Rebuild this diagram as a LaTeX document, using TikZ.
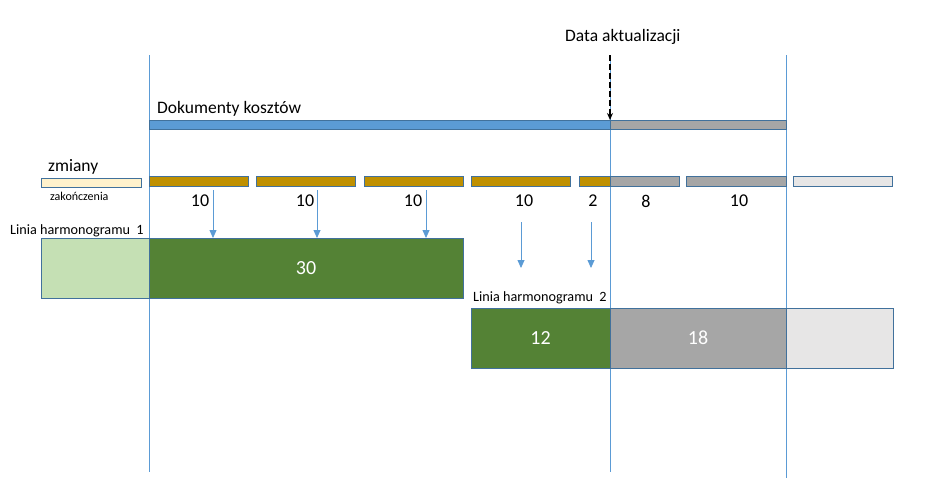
\documentclass[tikz,border=0pt]{standalone}
\usepackage{fontspec}
\setmainfont{Carlito}
\usetikzlibrary{arrows.meta}
\definecolor{edgeblue}{RGB}{65,113,156}
\definecolor{lineblue}{RGB}{91,155,213}
\definecolor{costblue}{RGB}{91,155,213}
\definecolor{gold}{RGB}{191,144,0}
\definecolor{cream}{RGB}{255,242,204}
\definecolor{palegreen}{RGB}{197,224,180}
\definecolor{deepgreen}{RGB}{84,130,53}
\definecolor{midgrey}{RGB}{166,166,166}
\definecolor{palegrey}{RGB}{231,230,230}
\begin{document}
\begin{tikzpicture}[x=1pt,y=1pt,yscale=-1,
    box/.style={draw=edgeblue,line width=0.8pt,inner sep=0pt,outer sep=0pt,anchor=north west},
    guide/.style={lineblue,line width=0.8pt},
    flow/.style={lineblue,line width=0.8pt,-{Triangle[width=7pt,length=8pt]}},
    lab/.style={anchor=base west,inner sep=0pt,font=\fontsize{17.5}{20}\selectfont},
    sched/.style={anchor=base west,inner sep=0pt,font=\fontsize{14.2}{17}\selectfont},
    num/.style={font=\fontsize{18}{21}\selectfont},
    big/.style={font=\fontsize{20}{23}\selectfont,text=white}]
    \useasboundingbox (0,0) rectangle (943,491);

    % guide lines
    \draw[guide] (149,55) -- (149,472);
    \draw[guide] (610,55) -- (610,472);
    \draw[guide] (786,55) -- (786,478);

    % cost documents bar
    \node[box,fill=costblue,minimum width=461pt,minimum height=9pt] (doc) at (149,120) {};
    \node[box,fill=midgrey,minimum width=176pt,minimum height=9pt] (docrest) at (610,120) {};
    \node[lab] (doclab) at (157,113) {Dokumenty kosztów};

    % update date
    \node[lab] (updlab) at (565,41) {Data aktualizacji};
    \coordinate (upd) at (610,55);
    \draw[black,line width=1.6pt,dash pattern=on 6pt off 3pt,-{Stealth[length=7pt,width=6pt]}] (upd) -- (doc.north east);

    % changes
    \node[lab] (chglab) at (48,171) {zmiany};
    \node[box,fill=cream,minimum width=100pt,minimum height=9pt] (endbar) at (41,178) {};
    \node[anchor=base west,inner sep=0pt,font=\fontsize{12}{14}\selectfont] (endlab) at (50,200) {zakończenia};

    \node[box,fill=gold,minimum width=99pt,minimum height=10pt] (c1) at (149,176) {};
    \node[box,fill=gold,minimum width=99pt,minimum height=10pt] (c2) at (256,176) {};
    \node[box,fill=gold,minimum width=99pt,minimum height=10pt] (c3) at (364,176) {};
    \node[box,fill=gold,minimum width=99pt,minimum height=10pt] (c4) at (471,176) {};
    \node[box,fill=gold,minimum width=31pt,minimum height=10pt] (c5) at (579,176) {};
    \node[box,fill=midgrey,minimum width=69pt,minimum height=10pt] (c6) at (610,176) {};
    \node[box,fill=midgrey,minimum width=100pt,minimum height=10pt] (c7) at (686,176) {};
    \node[box,fill=palegrey,minimum width=99pt,minimum height=10pt] (c8) at (793,176) {};

    \node[num] (n1) at (200,201) {10};
    \node[num] (n2) at (305,201) {10};
    \node[num] (n3) at (413,201) {10};
    \node[num] (n4) at (524,201) {10};
    \node[num] (n5) at (593,201) {2};
    \node[num] (n6) at (646,201) {8};
    \node[num] (n7) at (739,201) {10};

    % schedule line 1
    \node[sched] (l1lab) at (10,234) {Linia harmonogramu\ \ 1};
    \node[box,fill=palegreen,minimum width=108pt,minimum height=60pt] (s1a) at (41,238) {};
    \node[box,fill=deepgreen,minimum width=314pt,minimum height=60pt] (s1b) at (149,238) {};
    \node[big] (v30) at (s1b.center) {30};

    % schedule line 2
    \node[sched] (l2lab) at (473,301) {Linia harmonogramu\ \ 2};
    \node[box,fill=deepgreen,minimum width=139pt,minimum height=60pt] (s2a) at (471,308) {};
    \node[box,fill=midgrey,minimum width=176pt,minimum height=60pt] (s2b) at (610,308) {};
    \node[box,fill=palegrey,minimum width=107pt,minimum height=60pt] (s2c) at (786,308) {};
    \node[big] (v12) at (s2a.center) {12};
    \node[big] (v18) at (s2b.center) {18};

    % arrows
    \coordinate (a1) at (213,190);
    \coordinate (a2) at (317,190);
    \coordinate (a3) at (426,190);
    \coordinate (a4) at (521,222);
    \coordinate (a5) at (591,222);
    \coordinate (e4) at (521,268);
    \coordinate (e5) at (591,268);
    \draw[flow] (a1) -- (a1 |- s1b.north);
    \draw[flow] (a2) -- (a2 |- s1b.north);
    \draw[flow] (a3) -- (a3 |- s1b.north);
    \draw[flow] (a4) -- (e4);
    \draw[flow] (a5) -- (e5);
\end{tikzpicture}
\end{document}
